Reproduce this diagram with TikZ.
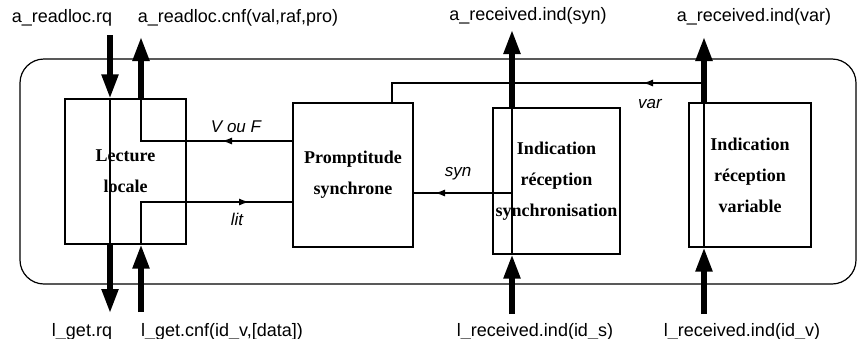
\documentclass[tikz,border=0pt]{standalone}
\usepackage{fontspec}
\setmainfont{Liberation Serif}
\setsansfont{Liberation Sans}
\usetikzlibrary{arrows.meta}
\tikzset{
  cadre/.style={draw, line width=0.6pt, rounded corners=12pt, inner sep=0pt},
  bloc/.style={draw, line width=0.6pt, inner sep=0pt, align=center,
               font=\bfseries\fontsize{9}{15.5}\selectfont},
  prim/.style={font=\sffamily\fontsize{9}{11}\selectfont, inner sep=1pt},
  flux/.style={font=\sffamily\itshape\fontsize{8.5}{10}\selectfont, inner sep=1pt},
  gros/.style={line width=2.6pt, -{Triangle[length=12pt,width=8pt]}},
  fil/.style={line width=0.6pt},
  pointe/.style={line width=0.6pt, -{Latex[length=5pt,width=3.5pt]}}
}
\begin{document}
\begin{tikzpicture}[x=0.5pt, y=-0.5pt]
\useasboundingbox (0,0) rectangle (857,338);
% cadre et blocs
\node[cadre, minimum width=418pt, minimum height=112.5pt] (cadre) at (438,171.5) {};
\node[bloc, minimum width=60.5pt, minimum height=72.5pt] (lect) at (125.5,171.5) {Lecture\\locale};
\node[bloc, minimum width=60pt, minimum height=72pt] (prom) at (353,175) {Promptitude\\synchrone};
\node[bloc, minimum width=63.5pt, minimum height=73pt] (isyn) at (556.5,181) {Indication\\réception\\synchronisation};
\node[bloc, minimum width=61pt, minimum height=72pt] (ivar) at (750,175) {Indication\\réception\\variable};
% extremites libres des primitives
\coordinate (cRq) at (110,35);
\coordinate (cCnf) at (141,37);
\coordinate (cGetRq) at (110,313);
\coordinate (cGetCnf) at (141,312);
\coordinate (cSyn) at (512,30);
\coordinate (cIdS) at (512,314);
\coordinate (cVar) at (704,37);
\coordinate (cIdV) at (704,314);
% coins et pointes des flux internes
\coordinate (cVF) at (141,141);
\coordinate (mVF) at (222,141);
\coordinate (cLit) at (141,202);
\coordinate (mLit) at (249,202);
\coordinate (mSyn) at (435,193);
\coordinate (cVarH) at (392,83);
\coordinate (mVar) at (643,83);
% primitives (fleches epaisses)
\draw[gros] (cRq) -- (cRq |- lect.north);
\draw[gros] (cCnf |- lect.north) -- (cCnf);
\draw[gros] (cGetRq |- lect.south) -- (cGetRq);
\draw[gros] (cGetCnf) -- (cGetCnf |- lect.south);
\draw[gros] (cSyn |- isyn.north) -- (cSyn);
\draw[gros] (cIdS) -- (cIdS |- isyn.south);
\draw[gros] (cVar |- ivar.north) -- (cVar);
\draw[gros] (cIdV) -- (cIdV |- ivar.south);
% traversees des blocs
\draw[fil] (cRq |- lect.north) -- (cRq |- lect.south);
\draw[fil] (cSyn |- isyn.north) -- (cSyn |- isyn.south);
\draw[fil] (cVar |- ivar.north) -- (cVar |- ivar.south);
% flux internes
\draw[fil] (prom.west |- cVF) -- (cVF) -- (cVF |- lect.north);
\draw[pointe] (prom.west |- cVF) -- (mVF);
\draw[fil] (cLit |- lect.south) -- (cLit) -- (prom.west |- cLit);
\draw[pointe] (cLit) -- (mLit);
\draw[fil] (cSyn |- mSyn) -- (prom.east |- mSyn);
\draw[pointe] (cSyn |- mSyn) -- (mSyn);
\draw[fil] (cVar |- cVarH) -- (cVarH) -- (cVarH |- prom.north);
\draw[pointe] (cVar |- cVarH) -- (mVar);
% libelles
\node[prim] (tRq) at (62,18) {a\_readloc.rq};
\node[prim] (tCnf) at (238,18) {a\_readloc.cnf(val,raf,pro)};
\node[prim] (tSyn) at (528,16) {a\_received.ind(syn)};
\node[prim] (tVar) at (754,17) {a\_received.ind(var)};
\node[prim] (tGetRq) at (82,332) {l\_get.rq};
\node[prim] (tGetCnf) at (222,332) {l\_get.cnf(id\_v,[data])};
\node[prim] (tIdS) at (535,332) {l\_received.ind(id\_s)};
\node[prim] (tIdV) at (742,332) {l\_received.ind(id\_v)};
\node[flux] (fVF) at (236,127) {V ou F};
\node[flux] (fLit) at (237,219) {lit};
\node[flux] (fSyn) at (458,174) {syn};
\node[flux] (fVar) at (650,104) {var};
\end{tikzpicture}
\end{document}
